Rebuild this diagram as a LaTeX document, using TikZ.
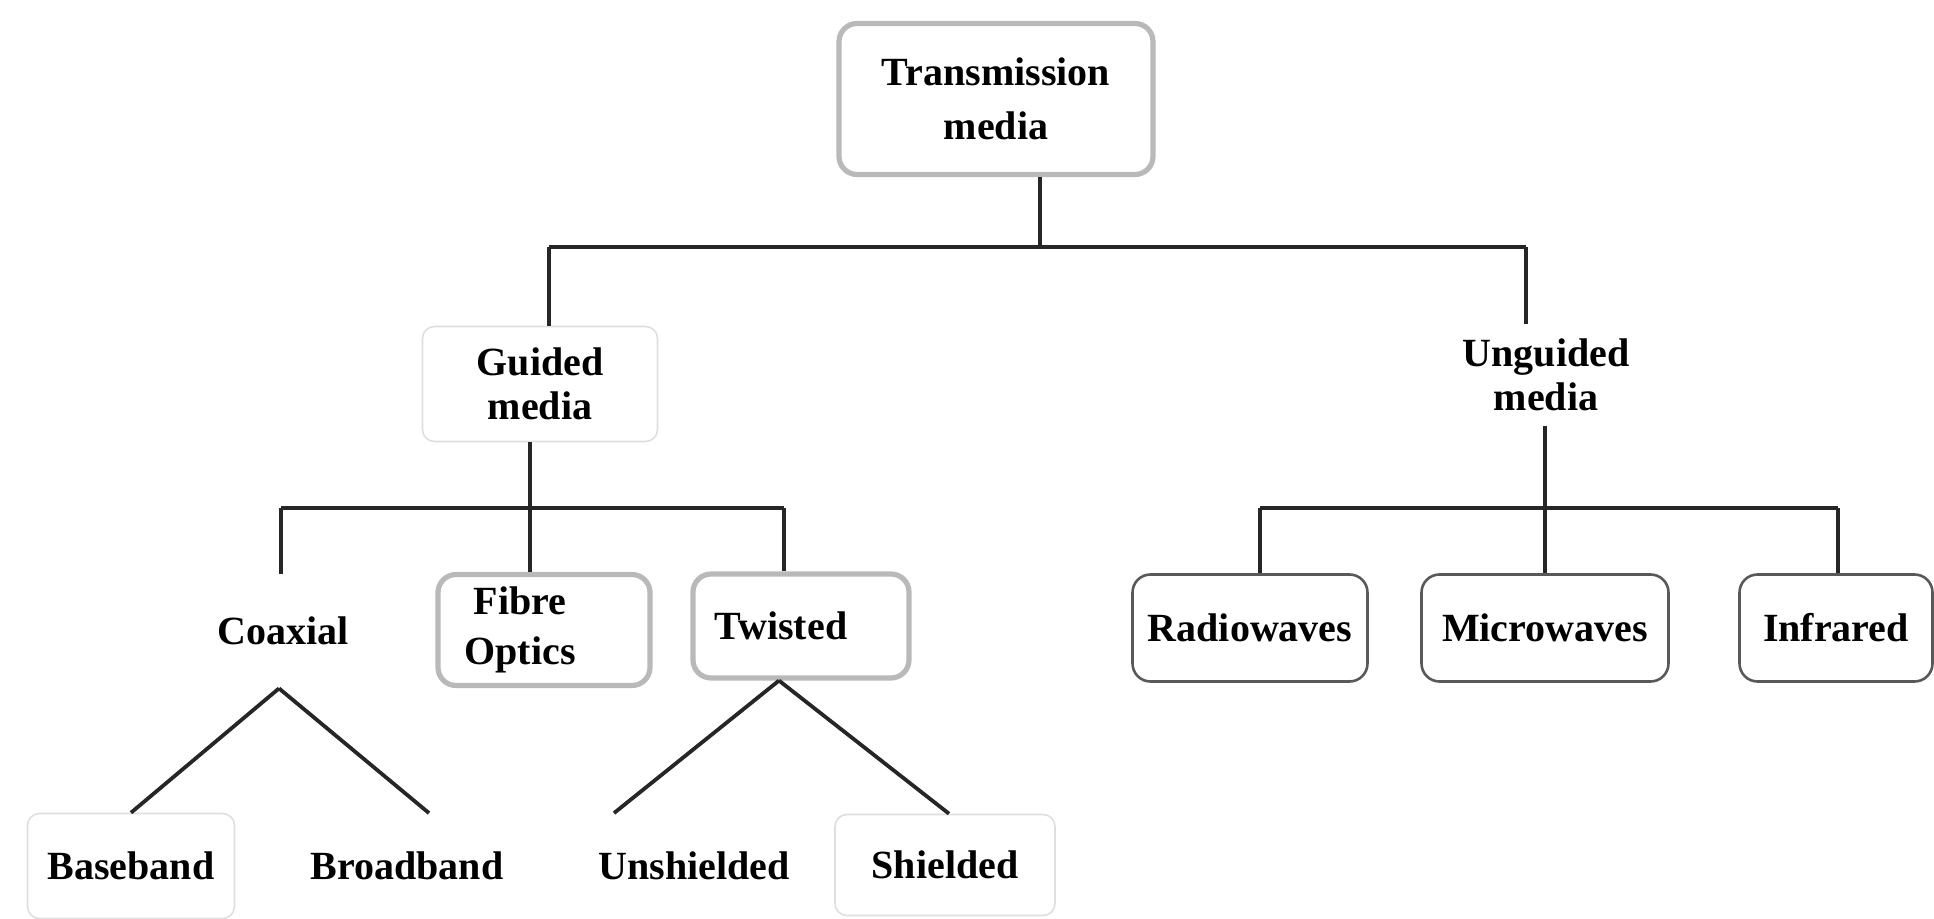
\documentclass[tikz,border=0pt]{standalone}
\usepackage{fontspec}
\setmainfont{Liberation Serif}
\begin{document}
\begin{tikzpicture}[x=0.5pt,y=-0.5pt,
  every node/.style={font=\fontsize{20}{27}\selectfont\bfseries, align=center, inner sep=0pt},
  shadowbox/.style={draw=gray!55, line width=2.6pt, rounded corners=9pt, fill=white},
  thinbox/.style={draw=black!65, line width=1.3pt, rounded corners=9pt, fill=white},
  faintbox/.style={draw=gray!25, line width=0.8pt, rounded corners=6pt},
  plain/.style={draw=none},
  conn/.style={draw=black!85, line width=1.9pt}]
\useasboundingbox (0,0) rectangle (1934,919);
% nodes
\node[shadowbox, minimum width=314*0.5pt, minimum height=151*0.5pt] (top) at (996,99) {Transmission\\media};
\node[faintbox, minimum width=235*0.5pt, minimum height=115*0.5pt, font=\fontsize{20}{22}\selectfont\bfseries] (guided) at (540,384) {Guided\\media};
\node[plain, minimum width=235*0.5pt, minimum height=102*0.5pt, font=\fontsize{20}{22}\selectfont\bfseries] (unguided) at (1546,375) {Unguided\\media};
\node[plain, minimum width=180*0.5pt, minimum height=114*0.5pt] (coax) at (283,631) {Coaxial};
\node[shadowbox, minimum width=212*0.5pt, minimum height=111*0.5pt, font=\fontsize{20}{25}\selectfont\bfseries] (fibre) at (544,630) {Fibre\kern 24pt\\Optics\kern 24pt};
\node[shadowbox, minimum width=216*0.5pt, minimum height=104*0.5pt] (twisted) at (801,626) {Twisted\kern 20pt};
\node[thinbox, minimum width=235*0.5pt, minimum height=107*0.5pt] (radio) at (1250,628) {Radiowaves};
\node[thinbox, minimum width=247*0.5pt, minimum height=107*0.5pt] (micro) at (1545,628) {Microwaves};
\node[thinbox, minimum width=193*0.5pt, minimum height=107*0.5pt] (infra) at (1836,628) {Infrared};
\node[faintbox, minimum width=207*0.5pt, minimum height=105*0.5pt] (base) at (131,866) {Baseband};
\node[plain, minimum width=200*0.5pt, minimum height=105*0.5pt] (broad) at (407,866) {Broadband};
\node[plain, minimum width=200*0.5pt, minimum height=105*0.5pt] (unsh) at (694,866) {Unshielded};
\node[faintbox, minimum width=220*0.5pt, minimum height=101*0.5pt] (shield) at (945,865) {Shielded};
% junctions
\coordinate (j0) at (1040,247);
\coordinate (jl) at (549,247);
\coordinate (jr) at (1526,247);
\coordinate (j2) at (530,508);
\coordinate (j2l) at (281,508);
\coordinate (j2r) at (784,508);
\coordinate (j3) at (1545,508);
\coordinate (j3l) at (1260,508);
\coordinate (j3r) at (1838,508);
% connectors level 1
\draw[conn] (top.south -| j0) -- (j0);
\draw[conn] (jl) -- (jr);
\draw[conn] (jl) -- (jl |- guided.north);
\draw[conn] (jr) -- (jr |- unguided.north);
% guided
\draw[conn] (guided.south -| j2) -- (j2);
\draw[conn] (j2l) -- (j2r);
\draw[conn] (j2l) -- (j2l |- coax.north);
\draw[conn] (j2) -- (j2 |- fibre.north);
\draw[conn] (j2r) -- (j2r |- twisted.north);
% unguided
\draw[conn] (unguided.south -| j3) -- (j3);
\draw[conn] (j3l) -- (j3r);
\draw[conn] (j3l) -- (j3l |- radio.north);
\draw[conn] (j3) -- (j3 |- micro.north);
\draw[conn] (j3r) -- (j3r |- infra.north);
% coaxial and twisted
\draw[conn] ([xshift=-2pt]coax.south) -- (base.north);
\draw[conn] ([xshift=-2pt]coax.south) -- ([xshift=11pt]broad.north);
\draw[conn] ([xshift=-11pt]twisted.south) -- ([xshift=-40pt]unsh.north);
\draw[conn] ([xshift=-11pt]twisted.south) -- ([xshift=2pt]shield.north);
\end{tikzpicture}
\end{document}
